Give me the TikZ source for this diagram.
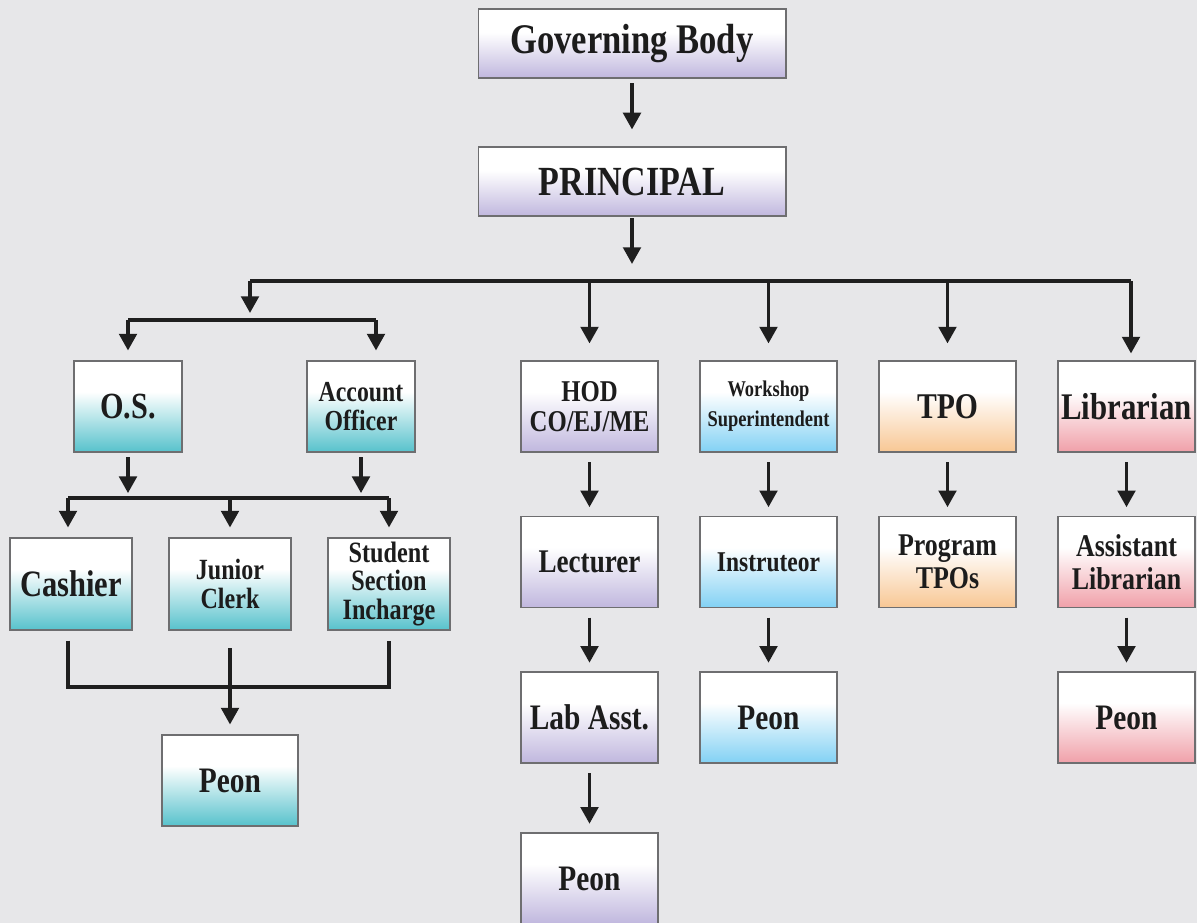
\documentclass[tikz,border=0pt]{standalone}
\usepackage{fontspec}
\setmainfont{Liberation Serif}[FakeStretch=0.82]
\usepackage{tikz}
\usetikzlibrary{
  arrows.meta,
  calc,
  positioning
}

\definecolor{bgc}{HTML}{E7E7E9}
\definecolor{boxline}{HTML}{6E6E70}
\definecolor{txt}{HTML}{1C1C1C}
\definecolor{purpleC}{HTML}{C0B7DE}
\definecolor{tealC}{HTML}{57C2CC}
\definecolor{skyC}{HTML}{82D1F4}
\definecolor{orangeC}{HTML}{F8C794}
\definecolor{pinkC}{HTML}{F0A0A9}

\pgfdeclareverticalshading{purplefade}{100bp}{color(0bp)=(purpleC); color(25bp)=(purpleC); color(58bp)=(white); color(100bp)=(white)}
\pgfdeclareverticalshading{tealfade}{100bp}{color(0bp)=(tealC); color(25bp)=(tealC); color(58bp)=(white); color(100bp)=(white)}
\pgfdeclareverticalshading{skyfade}{100bp}{color(0bp)=(skyC); color(25bp)=(skyC); color(58bp)=(white); color(100bp)=(white)}
\pgfdeclareverticalshading{orangefade}{100bp}{color(0bp)=(orangeC); color(25bp)=(orangeC); color(58bp)=(white); color(100bp)=(white)}
\pgfdeclareverticalshading{pinkfade}{100bp}{color(0bp)=(pinkC); color(25bp)=(pinkC); color(58bp)=(white); color(100bp)=(white)}

\newcommand\fsz[2]{\fontsize{#1}{#2}\selectfont\bfseries}

\begin{document}
\begin{tikzpicture}[x=0.02cm,y=-0.02cm,
    box/.style={draw=boxline,line width=0.6pt,align=center,inner sep=1pt,text=txt,
      minimum width=2.74cm,minimum height=1.82cm},
    narrow/.style={box,minimum width=2.16cm},
    mid/.style={box,minimum width=2.44cm,minimum height=1.84cm},
    link/.style={line width=2pt,black!88},
    arr/.style={link,-{Triangle[width=10pt,length=9.5pt]}},
    down/.style={arr,shorten <=5.5pt,shorten >=5pt}]
  \fill[bgc] (0,0) rectangle (1197,923);
  \useasboundingbox (0,0) rectangle (1197,923);

  % top
  \node[box,shading=purplefade,minimum width=6.16cm,minimum height=1.38cm,font=\fsz{24}{26}] at (632,43.5) (gov) {Governing Body};
  \node[box,shading=purplefade,minimum width=6.16cm,minimum height=1.38cm,font=\fsz{23.6}{26}] at (632,181.5) (principal) {PRINCIPAL};

  % office side
  \node[narrow,shading=tealfade,font=\fsz{21}{22}] at (128,406.5) (os) {O.S.};
  \node[narrow,shading=tealfade,font=\fsz{16.5}{16.2}] at (361,406.5) (acct) {Account\\Officer};
  \node[mid,shading=tealfade,font=\fsz{21.2}{22}] at (71,584) (cashier) {Cashier};
  \node[mid,shading=tealfade,font=\fsz{16.7}{16}] at (230,584) (jclerk) {Junior\\Clerk};
  \node[mid,shading=tealfade,font=\fsz{16.8}{16.3}] at (389,584) (student) {Student\\Section\\Incharge};
  \node[box,shading=tealfade,minimum width=2.72cm,font=\fsz{20.4}{22}] at (230,780.5) (peonA) {Peon};

  % departments
  \node[box,shading=purplefade,font=\fsz{17.2}{17}] at (589.5,406.5) (hod) {HOD\\CO/EJ/ME};
  \node[box,shading=purplefade,font=\fsz{18.8}{20}] at (589.5,562) (lect) {Lecturer};
  \node[box,shading=purplefade,font=\fsz{20.4}{22}] at (589.5,717.5) (labasst) {Lab Asst.};
  \node[box,shading=purplefade,font=\fsz{20.4}{22}] at (589.5,878.5) (peonH) {Peon};

  \node[box,shading=skyfade,font=\fsz{12.8}{17}] at (768.5,406.5) (ws) {Workshop\\Superintendent};
  \node[box,shading=skyfade,font=\fsz{16.3}{18}] at (768.5,562) (instr) {Instruteor};
  \node[box,shading=skyfade,font=\fsz{20.4}{22}] at (768.5,717.5) (peonW) {Peon};

  \node[box,shading=orangefade,font=\fsz{20.6}{22}] at (947.5,406.5) (tpo) {TPO};
  \node[box,shading=orangefade,font=\fsz{18}{18.8}] at (947.5,562) (progtpo) {Program\\TPOs};

  \node[box,shading=pinkfade,font=\fsz{21.4}{22}] at (1126.5,406.5) (lib) {Librarian};
  \node[box,shading=pinkfade,font=\fsz{18}{18.8}] at (1126.5,562) (asstlib) {Assistant\\Librarian};
  \node[box,shading=pinkfade,font=\fsz{20.4}{22}] at (1126.5,717.5) (peonL) {Peon};

  % bus lines
  \coordinate (bus) at (632,281);
  \coordinate (busW) at (250,281);
  \coordinate (busE) at (1131,281);
  \coordinate (sub) at (250,320);
  \coordinate (subW) at (128,320);
  \coordinate (subE) at (376,320);
  \coordinate (bus2W) at (68,498);
  \coordinate (bus2E) at (389,498);
  \coordinate (bus3W) at (68,687);
  \coordinate (bus3E) at (389,687);

  \draw[arr,shorten <=2.8pt,shorten >=9.7pt] (gov) -- (principal);
  \draw[arr,shorten <=1.1pt,shorten >=9.7pt] (principal) -- (bus);

  \draw[link] (busW) -- (busE);
  \draw[arr,shorten >=4pt] (busW) -- (sub);
  \foreach \n in {hod,ws,tpo}
    \draw[arr,shorten >=9.7pt] (\n |- bus) -- (\n.north);
  \draw[arr,shorten >=4pt] (busE) -- (busE |- lib.north);

  \draw[link] (subW) -- (subE);
  \draw[arr,shorten >=5.7pt] (subW) -- (subW |- os.north);
  \draw[arr,shorten >=5.7pt] (subE) -- (subE |- acct.north);

  \draw[arr,shorten <=2.8pt,shorten >=2.8pt] (os) -- (os |- bus2W);
  \draw[arr,shorten <=2.8pt,shorten >=2.8pt] (acct) -- (acct |- bus2W);
  \draw[link] (bus2W) -- (bus2E);
  \draw[arr,shorten >=5.7pt] (bus2W) -- (bus2W |- cashier.north);
  \draw[arr,shorten >=5.7pt] (jclerk |- bus2W) -- (jclerk.north);
  \draw[arr,shorten >=5.7pt] (bus2E) -- (bus2E |- student.north);

  \draw[link,shorten <=5.7pt,shorten >=5.7pt]
  (bus3W |- cashier.south) -- (bus3W) -- (bus3E) -- (bus3E |- student.south);
  \draw[arr,shorten <=10.2pt,shorten >=5.7pt] (jclerk) -- (peonA);

  % columns
  \draw[down] (hod) -- (lect);
  \draw[down] (lect) -- (labasst);
  \draw[down] (labasst) -- (peonH);
  \draw[down] (ws) -- (instr);
  \draw[down] (instr) -- (peonW);
  \draw[down] (tpo) -- (progtpo);
  \draw[down] (lib) -- (asstlib);
  \draw[down] (asstlib) -- (peonL);
\end{tikzpicture}
\end{document}
